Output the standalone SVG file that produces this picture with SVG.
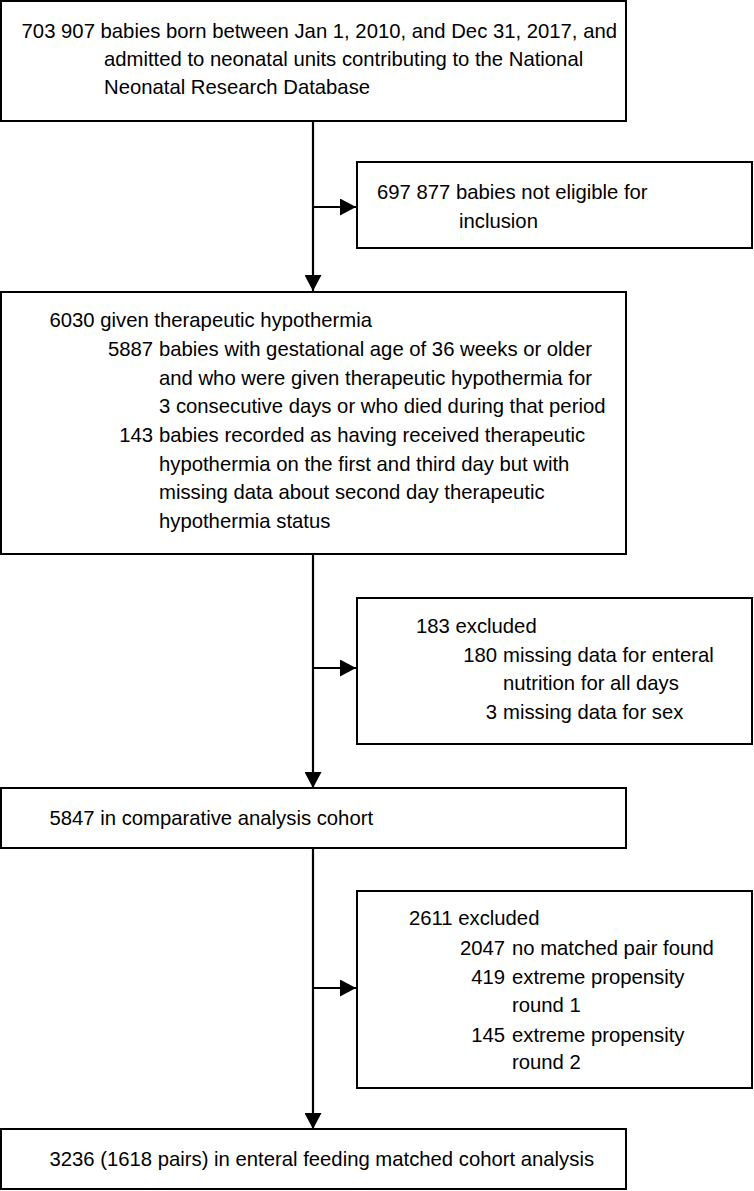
<svg xmlns="http://www.w3.org/2000/svg" width="754" height="1191" viewBox="0 0 754 1191">
<style>
.box{fill:#fff;stroke:#000;stroke-width:2}
.t{font-family:"Liberation Sans",Arial,sans-serif;font-size:20.3px;fill:#000}
.e{text-anchor:end}
.c{fill:none;stroke:#000;stroke-width:2.2}
</style>
<defs>
<marker id="ah" markerUnits="userSpaceOnUse" markerWidth="17" markerHeight="17" refX="16" refY="8.5" orient="auto">
<path d="M0,0 L16,8.5 L0,17 z" fill="#000"/>
</marker>
</defs>
<rect width="754" height="1191" fill="#fff"/>
<g id="connectors">
<line class="c" x1="313" y1="121" x2="313" y2="291" marker-end="url(#ah)"/>
<line class="c" x1="313" y1="207" x2="356" y2="207" marker-end="url(#ah)"/>
<line class="c" x1="313" y1="554" x2="313" y2="788" marker-end="url(#ah)"/>
<line class="c" x1="313" y1="668" x2="356" y2="668" marker-end="url(#ah)"/>
<line class="c" x1="313" y1="848" x2="313" y2="1129" marker-end="url(#ah)"/>
<line class="c" x1="313" y1="988" x2="356" y2="988" marker-end="url(#ah)"/>
</g>
<g id="n-born">
<rect class="box" x="1" y="1" width="625" height="120"/>
<text class="t" x="21.6" y="38">703 907 babies born between Jan 1, 2010, and Dec 31, 2017, and</text>
<text class="t" x="104" y="66">admitted to neonatal units contributing to the National</text>
<text class="t" x="104" y="94">Neonatal Research Database</text>
</g>
<g id="n-noteligible">
<rect class="box" x="357" y="162" width="395" height="86"/>
<text class="t" x="377" y="199">697 877 babies not eligible for</text>
<text class="t" x="459" y="228">inclusion</text>
</g>
<g id="n-hypothermia">
<rect class="box" x="1" y="292" width="625" height="262"/>
<text class="t" x="49.5" y="327">6030 given therapeutic hypothermia</text>
<text class="t e" x="153" y="356">5887</text>
<text class="t" x="159" y="356">babies with gestational age of 36 weeks or older</text>
<text class="t" x="159" y="385">and who were given therapeutic hypothermia for</text>
<text class="t" x="159" y="413">3 consecutive days or who died during that period</text>
<text class="t e" x="153" y="442">143</text>
<text class="t" x="159" y="442">babies recorded as having received therapeutic</text>
<text class="t" x="159" y="471">hypothermia on the first and third day but with</text>
<text class="t" x="159" y="499">missing data about second day therapeutic</text>
<text class="t" x="159" y="528">hypothermia status</text>
</g>
<g id="n-excluded1">
<rect class="box" x="357" y="598" width="395" height="146"/>
<text class="t" x="416" y="633">183 excluded</text>
<text class="t e" x="497" y="662">180</text>
<text class="t" x="503" y="662">missing data for enteral</text>
<text class="t" x="503" y="690">nutrition for all days</text>
<text class="t e" x="497" y="719">3</text>
<text class="t" x="503" y="719">missing data for sex</text>
</g>
<g id="n-comparative">
<rect class="box" x="1" y="788" width="625" height="60"/>
<text class="t" x="49.5" y="825">5847 in comparative analysis cohort</text>
</g>
<g id="n-excluded2">
<rect class="box" x="357" y="891" width="395" height="197"/>
<text class="t" x="409" y="925">2611 excluded</text>
<text class="t e" x="505" y="955">2047</text>
<text class="t" x="512" y="955">no matched pair found</text>
<text class="t e" x="505" y="984">419</text>
<text class="t" x="512" y="984">extreme propensity</text>
<text class="t" x="512" y="1012">round 1</text>
<text class="t e" x="505" y="1042">145</text>
<text class="t" x="512" y="1042">extreme propensity</text>
<text class="t" x="512" y="1069">round 2</text>
</g>
<g id="n-matched">
<rect class="box" x="1" y="1129" width="625" height="60"/>
<text class="t" x="49.5" y="1166">3236 (1618 pairs) in enteral feeding matched cohort analysis</text>
</g>
</svg>
